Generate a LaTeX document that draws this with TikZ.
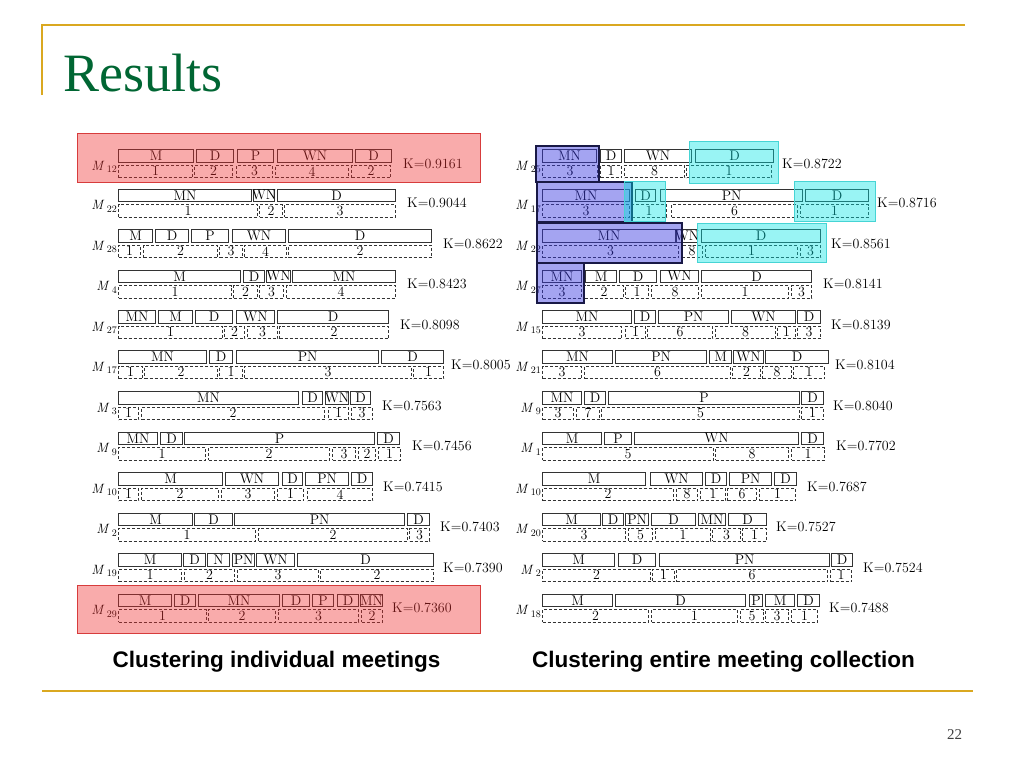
\documentclass[tikz,border=0pt]{standalone}
\usepackage{fontspec}
\newfontfamily\capfont{Liberation Sans}
\newfontfamily\titlefont{Liberation Serif}
\usepackage{tikz}
\definecolor{slidegold}{RGB}{218,168,32}
\definecolor{titlegreen}{RGB}{0,102,51}
\definecolor{markred}{RGB}{240,45,45}
\definecolor{markredline}{RGB}{215,60,60}
\definecolor{markblue}{RGB}{55,55,225}
\definecolor{markblueline}{RGB}{25,25,70}
\definecolor{markcyan}{RGB}{0,228,228}
\definecolor{markcyanline}{RGB}{70,212,212}
\tikzset{
  segbox/.style={draw=black!80, line width=1.1pt, inner sep=0pt, anchor=north west,
    minimum height=12.5pt, text=black, font=\fontsize{14}{14}\selectfont},
  clusbox/.style={segbox, dash pattern=on 3pt off 2pt},
  rowlabel/.style={anchor=base east, inner sep=0pt, text=black,
    font=\fontsize{13.5}{13.5}\selectfont},
  kappa/.style={anchor=west, inner sep=0pt, text=black,
    font=\fontsize{14}{14}\selectfont},
  caption/.style={inner sep=0pt, font=\capfont\bfseries\fontsize{22.5}{22.5}\selectfont},
  goldrule/.style={draw=slidegold, line width=1.8pt},
  redmark/.style={draw=markredline, line width=0.9pt, fill=markred, fill opacity=0.4},
  bluemark/.style={draw=markblueline, line width=1.4pt, fill=markblue, fill opacity=0.45},
  cyanmark/.style={draw=markcyanline, line width=0.9pt, fill=markcyan, fill opacity=0.4}
}
% one meeting: segment boxes on top, cluster boxes (dashed) below
\newcommand{\meetrow}[8]{%
  \node[rowlabel] (#1-m) at (#3,#2+21)
    {\textit{M}\,\raisebox{-2.5pt}{\fontsize{10}{10}\selectfont #4}};
  \foreach \xa/\xb/\lab [count=\i] in {#5}{
    \pgfmathsetmacro\segw{\xb-\xa}
    \node[segbox, minimum width=\segw pt] (#1-s\i) at (\xa,#2) {\makebox[0pt]{\lab}};
  }
  \foreach \xa/\xb/\lab [count=\i] in {#6}{
    \pgfmathsetmacro\segw{\xb-\xa}
    \node[clusbox, minimum width=\segw pt] (#1-c\i) at (\xa,#2+15.5) {\makebox[0pt]{\lab}};
  }
  \node[kappa] (#1-k) at (#7,#2+14.5) {K=#8};
}

\begin{document}
\begin{tikzpicture}[x=1pt, y=-1pt]
  \useasboundingbox (0,0) rectangle (1024,768);
  \fill[white] (0,0) rectangle (1024,768);

  % Slide frame
  \draw[goldrule] (42,95) -- (42,25) -- (965,25);
  \draw[goldrule] (42,691) -- (973,691);
  \node[anchor=base west, inner sep=0pt, text=titlegreen,
    font=\titlefont\fontsize{54}{54}\selectfont] (title) at (63,91) {Results};
  \node[text=black!75, font=\titlefont\fontsize{15}{15}\selectfont] (pageno) at (954.5,735) {22};

  % Clustering individual meetings
  \meetrow{l12}{149}{117}{12}{118/193/M, 196/233/D, 237/273/P, 277/352/WN, 355/391/D}
    {118/192/1, 194/232/2, 236/272/3, 275/348/4, 351/390/2}{403}{0.9161}
  \meetrow{l22}{188.5}{117}{22}{118/251/MN, 253/274/WN, 277/395/D}
    {118/257/1, 259/282/2, 284/395/3}{407}{0.9044}
  \meetrow{l28}{229}{117}{28}{118/152/M, 155/188/D, 191/228/P, 232/285/WN, 288/431/D}
    {118/140/1, 143/217/2, 219/242/3, 244/286/4, 288/431/2}{443}{0.8622}
  \meetrow{l4}{269.5}{117}{4}{118/240/M, 243/264/D, 266/290/WN, 292/395/MN}
    {118/231/1, 233/257/2, 259/283/3, 286/395/4}{407}{0.8423}
  \meetrow{l27}{310}{117}{27}{118/155/MN, 158/192/M, 195/232/D, 236/274/WN, 277/388/D}
    {118/222/1, 224/244/2, 247/277/3, 279/388/2}{400}{0.8098}
  \meetrow{l17}{350}{117}{17}{118/206/MN, 209/232/D, 236/378/PN, 381/443/D}
    {118/142/1, 144/217/2, 219/242/1, 244/411/3, 413/443/1}{451}{0.8005}
  \meetrow{l3}{391}{117}{3}{118/298/MN, 302/322/D, 325/348/WN, 350/370/D}
    {118/138/1, 141/324/2, 328/348/1, 351/372/3}{382}{0.7563}
  \meetrow{l9}{431.5}{117}{9}{118/157/MN, 160/182/D, 184/374/P, 377/399/D}
    {118/205/1, 208/329/2, 332/355/3, 358/375/2, 378/400/1}{412}{0.7456}
  \meetrow{l10}{472}{117}{10}{118/222/M, 225/278/WN, 282/302/D, 305/348/PN, 351/372/D}
    {118/138/1, 141/218/2, 221/274/3, 277/303/1, 307/372/4}{383}{0.7415}
  \meetrow{l2}{512.5}{117}{2}{118/192/M, 194/232/D, 234/404/PN, 407/429/D}
    {118/255/1, 258/407/2, 409/429/3}{440}{0.7403}
  \meetrow{l19}{553}{117}{19}{118/181/M, 183/205/D, 207/229/N, 232/254/PN, 256/294/WN, 297/433/D}
    {118/181/1, 184/234/2, 237/318/3, 320/433/2}{443}{0.7390}
  \meetrow{l29}{593.5}{117}{29}{118/171/M, 174/195/D, 198/279/MN, 282/309/D, 312/333/P, 337/358/D, 360/382/MN}
    {118/206/1, 208/275/2, 278/358/3, 361/382/2}{392}{0.7360}

  % Clustering entire meeting collection
  \meetrow{r25}{149}{541}{25}{542/596/MN, 600/621/D, 624/691/WN, 695/773/D}
    {542/597/3, 600/621/1, 624/684/8, 686/771/1}{782}{0.8722}
  \meetrow{r17}{188.5}{541}{17}{542/629/MN, 635/655/D, 660/802/PN, 805/868/D}
    {542/629/3, 631/666/1, 671/797/6, 800/868/1}{877}{0.8716}
  \meetrow{r22}{229}{541}{22}{542/675/MN, 676/697/WN, 701/820/D}
    {542/678/3, 681/702/8, 705/797/1, 800/820/3}{831}{0.8561}
  \meetrow{r27}{269.5}{541}{27}{542/581/MN, 585/616/M, 619/656/D, 660/698/WN, 701/811/D}
    {542/581/3, 584/623/2, 625/648/1, 651/698/8, 701/788/1, 791/811/3}{823}{0.8141}
  \meetrow{r15}{310}{541}{15}{542/631/MN, 634/655/D, 658/728/PN, 731/795/WN, 797/820/D}
    {542/621/3, 625/645/1, 647/712/6, 715/775/8, 777/795/1, 797/820/3}{831}{0.8139}
  \meetrow{r21}{350}{541}{21}{542/612/MN, 615/706/PN, 709/731/M, 733/763/WN, 765/828/D}
    {542/581/3, 584/730/6, 732/760/2, 762/791/8, 793/824/1}{835}{0.8104}
  \meetrow{r9}{391}{541}{9}{542/581/MN, 584/605/D, 608/799/P, 801/823/D}
    {542/573/3, 576/599/7, 601/799/5, 801/823/1}{833}{0.8040}
  \meetrow{r1}{431.5}{541}{1}{542/601/M, 604/631/P, 634/798/WN, 801/823/D}
    {542/713/5, 715/788/8, 791/824/1}{836}{0.7702}
  \meetrow{r10}{472}{541}{10}{542/645/M, 650/702/WN, 705/726/D, 729/771/PN, 774/796/D}
    {542/673/2, 676/697/8, 700/725/1, 727/756/6, 759/795/1}{807}{0.7687}
  \meetrow{r20}{512.5}{541}{20}{542/600/M, 602/623/D, 625/648/PN, 651/695/D, 698/725/MN, 728/766/D}
    {542/625/3, 628/652/5, 655/710/1, 712/740/3, 742/766/1}{776}{0.7527}
  \meetrow{r2}{553}{541}{2}{542/614/M, 618/655/D, 659/829/PN, 831/852/D}
    {542/650/2, 652/674/1, 676/827/6, 830/851/1}{863}{0.7524}
  \meetrow{r18}{593.5}{541}{18}{542/612/M, 615/745/D, 749/762/P, 765/794/M, 797/819/D}
    {542/648/2, 651/737/1, 740/763/5, 765/788/3, 791/817/1}{829}{0.7488}

  % Highlights
  \draw[redmark] (77,133) rectangle (480,182);
  \draw[redmark] (77,585) rectangle (480,633);
  \draw[bluemark] (536,146) rectangle (599,182);
  \draw[bluemark] (537,182) rectangle (632,222);
  \draw[bluemark] (537,223) rectangle (682,263);
  \draw[bluemark] (537,263) rectangle (584,303);
  \draw[cyanmark] (689,141) rectangle (778,183);
  \draw[cyanmark] (624,181) rectangle (665,221);
  \draw[cyanmark] (794,181) rectangle (875,221);
  \draw[cyanmark] (697,223) rectangle (826,262);

  % Captions
  \node[caption] (capleft) at (276.5,662) {Clustering individual meetings};
  \node[caption] (capright) at (723.5,662) {Clustering entire meeting collection};
\end{tikzpicture}
\end{document}
